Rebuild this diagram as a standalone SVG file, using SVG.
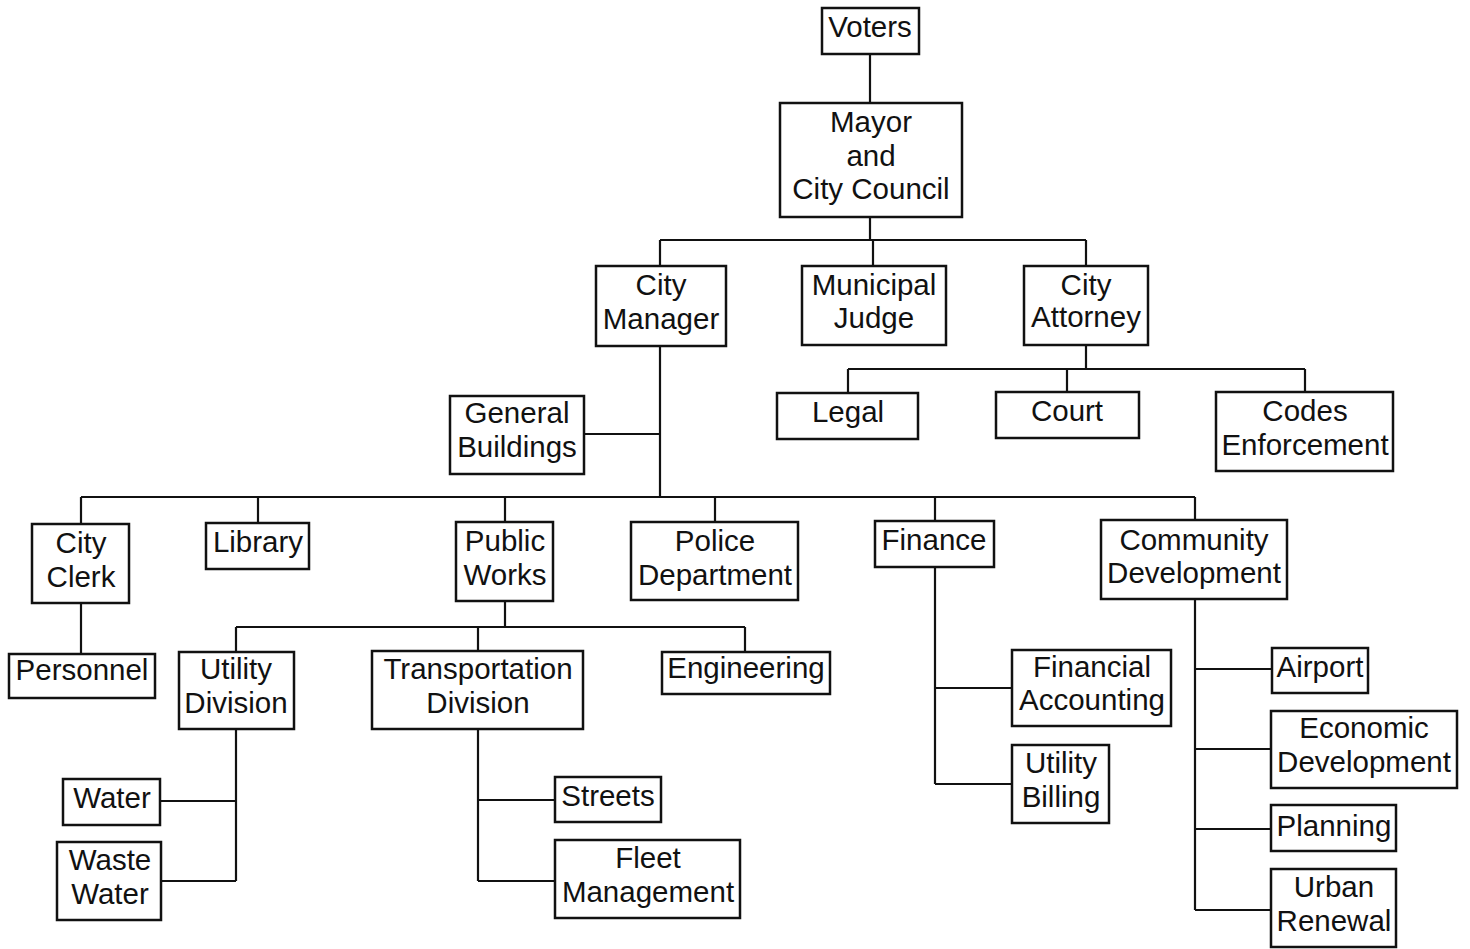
<svg xmlns="http://www.w3.org/2000/svg" width="1470" height="949" viewBox="0 0 1470 949">
<style>
rect{fill:#fff;stroke:#111;stroke-width:2.5}
text{font-family:"Liberation Sans",Arial,sans-serif;font-size:29.5px;fill:#111;text-anchor:middle}
#connectors path{fill:none;stroke:#111;stroke-width:2.2}
</style>
<rect x="0" y="0" width="1470" height="949" style="fill:#fff;stroke:none"/>
<g id="connectors">
<path d="M870 54V103"/>
<path d="M870 217V240M660 240H1086M660 240V266M873 240V266M1086 240V266"/>
<path d="M1086 345V369M848 369H1305M848 369V393M1067 369V392M1305 369V392"/>
<path d="M660 346V497M584 434H660"/>
<path d="M81 497H1195M81 497V524M258 497V523M505 497V522M715 497V522M935 497V521M1195 497V520"/>
<path d="M81 603V654"/>
<path d="M505 601V627M236 627H745M236 627V652M478 627V651M745 627V652"/>
<path d="M236 729V881M160 801H236M161 881H236"/>
<path d="M478 729V881M478 800H555M478 881H555"/>
<path d="M935 567V784M935 688H1012M935 784H1012"/>
<path d="M1195 599V910M1195 669H1272M1195 749H1271M1195 829H1271M1195 910H1271"/>
</g>
<g id="voters"><rect x="822" y="8" width="97" height="46"/><text x="870" y="37">Voters</text></g>
<g id="mayor"><rect x="780" y="103" width="182" height="114"/><text x="871" y="132">Mayor</text><text x="871" y="166">and</text><text x="871" y="199">City Council</text></g>
<g id="city-manager"><rect x="596" y="266" width="130" height="80"/><text x="661" y="295">City</text><text x="661" y="329">Manager</text></g>
<g id="municipal-judge"><rect x="802" y="266" width="144" height="79"/><text x="874" y="295">Municipal</text><text x="874" y="328">Judge</text></g>
<g id="city-attorney"><rect x="1024" y="266" width="124" height="79"/><text x="1086" y="295">City</text><text x="1086" y="327">Attorney</text></g>
<g id="legal"><rect x="777" y="393" width="141" height="46"/><text x="848" y="422">Legal</text></g>
<g id="court"><rect x="996" y="392" width="143" height="46"/><text x="1067" y="421">Court</text></g>
<g id="codes-enforcement"><rect x="1216" y="392" width="177" height="79"/><text x="1305" y="421">Codes</text><text x="1305" y="455">Enforcement</text></g>
<g id="general-buildings"><rect x="450" y="396" width="134" height="78"/><text x="517" y="423">General</text><text x="517" y="457">Buildings</text></g>
<g id="city-clerk"><rect x="32" y="524" width="97" height="79"/><text x="81" y="553">City</text><text x="81" y="587">Clerk</text></g>
<g id="library"><rect x="206" y="523" width="103" height="46"/><text x="258" y="552">Library</text></g>
<g id="public-works"><rect x="456" y="522" width="97" height="79"/><text x="505" y="551">Public</text><text x="505" y="585">Works</text></g>
<g id="police"><rect x="631" y="522" width="167" height="78"/><text x="715" y="551">Police</text><text x="715" y="585">Department</text></g>
<g id="finance"><rect x="875" y="521" width="119" height="46"/><text x="934" y="550">Finance</text></g>
<g id="community-development"><rect x="1101" y="520" width="186" height="79"/><text x="1194" y="550">Community</text><text x="1194" y="583">Development</text></g>
<g id="personnel"><rect x="9" y="654" width="146" height="44"/><text x="82" y="680">Personnel</text></g>
<g id="utility-division"><rect x="179" y="652" width="115" height="77"/><text x="236" y="679">Utility</text><text x="236" y="713">Division</text></g>
<g id="transportation-division"><rect x="372" y="651" width="211" height="78"/><text x="478" y="679">Transportation</text><text x="478" y="713">Division</text></g>
<g id="engineering"><rect x="662" y="652" width="168" height="42"/><text x="746" y="678">Engineering</text></g>
<g id="water"><rect x="63" y="779" width="97" height="46"/><text x="112" y="808">Water</text></g>
<g id="waste-water"><rect x="57" y="842" width="104" height="78"/><text x="110" y="870">Waste</text><text x="110" y="904">Water</text></g>
<g id="streets"><rect x="555" y="777" width="106" height="45"/><text x="608" y="806">Streets</text></g>
<g id="fleet-management"><rect x="555" y="840" width="185" height="78"/><text x="648" y="868">Fleet</text><text x="648" y="902">Management</text></g>
<g id="financial-accounting"><rect x="1012" y="650" width="159" height="76"/><text x="1092" y="677">Financial</text><text x="1092" y="710">Accounting</text></g>
<g id="utility-billing"><rect x="1012" y="745" width="97" height="78"/><text x="1061" y="773">Utility</text><text x="1061" y="807">Billing</text></g>
<g id="airport"><rect x="1272" y="648" width="96" height="45"/><text x="1320" y="677">Airport</text></g>
<g id="economic-development"><rect x="1271" y="711" width="186" height="77"/><text x="1364" y="738">Economic</text><text x="1364" y="772">Development</text></g>
<g id="planning"><rect x="1271" y="805" width="125" height="46"/><text x="1334" y="836">Planning</text></g>
<g id="urban-renewal"><rect x="1271" y="869" width="125" height="78"/><text x="1334" y="897">Urban</text><text x="1334" y="931">Renewal</text></g>
</svg>
